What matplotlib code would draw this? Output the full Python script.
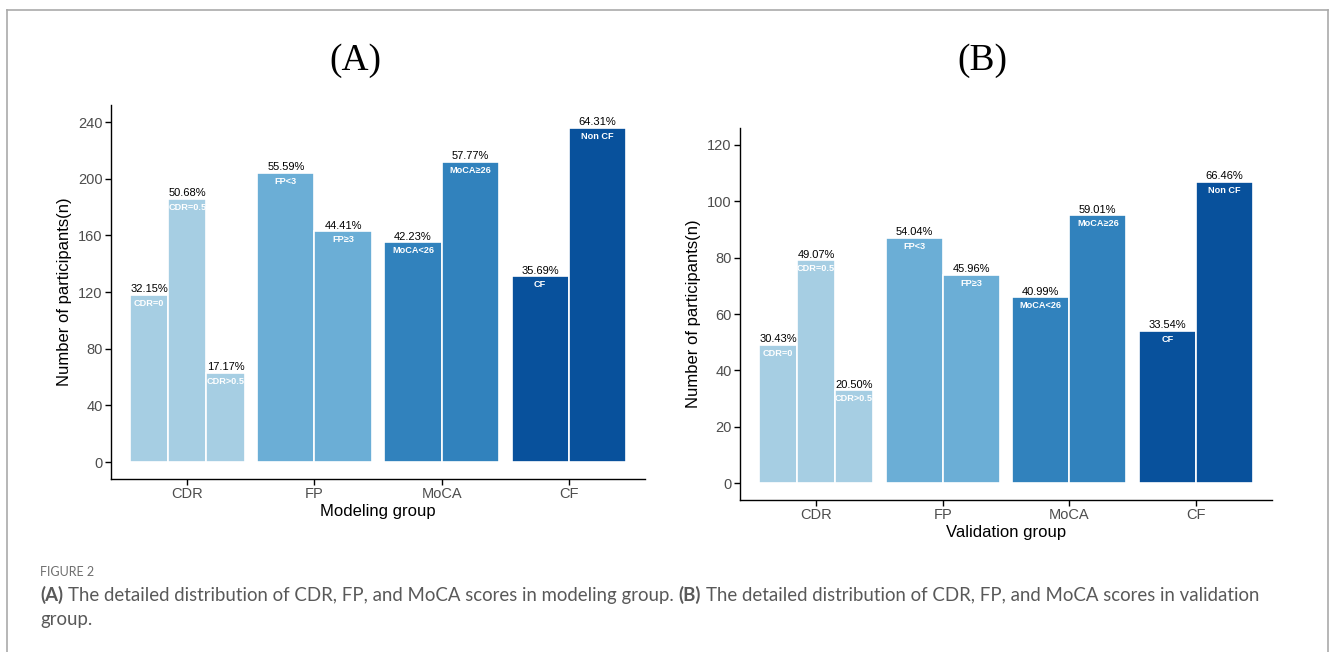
import numpy as np
import matplotlib
matplotlib.use("Agg")
import matplotlib.pyplot as plt
from matplotlib.lines import Line2D

# ---- data ----
groups = ["CDR", "FP", "MoCA", "CF"]
sub_labels = [["CDR=0", "CDR=0.5", "CDR>0.5"],
              ["FP<3", "FP\u22653"],
              ["MoCA<26", "MoCA\u226526"],
              ["CF", "Non CF"]]
model_counts = [[118, 186, 63], [204, 163], [155, 212], [131, 236]]
valid_counts = [[49, 79, 33], [87, 74], [66, 95], [54, 107]]
model_n = 367
valid_n = 161
colors = ["#A6CEE3", "#6BAED6", "#3182BD", "#08519C"]

plt.rcParams['font.family'] = ['Liberation Sans', 'DejaVu Sans']

W, H = 1330, 652
fig = plt.figure(figsize=(W / 100, H / 100), dpi=100)


def px_axes(x0, y0, x1, y1):
    return fig.add_axes([x0 / W, 1 - y1 / H, (x1 - x0) / W, (y1 - y0) / H])


def draw_panel(ax, counts, total, ymax, ystep, xlabel, ppu):
    for gi, (cnts, labs) in enumerate(zip(counts, sub_labels)):
        k = len(cnts)
        bw = 0.9 / k
        for j, (c, lab) in enumerate(zip(cnts, labs)):
            x = gi + 1 - 0.45 + bw * (j + 0.5)
            ax.bar(x, c, width=bw, color=colors[gi], edgecolor="white", linewidth=1.2)
            ax.text(x, c + 0.5 / ppu, "%.2f%%" % (100.0 * c / total), ha="center", va="bottom",
                    fontsize=8, color="black")
            ax.text(x, c - 4 / ppu, lab, ha="center", va="top", fontsize=6.6,
                    color="white", fontweight="bold")
    ax.set_xlim(0.4, 4.6)
    ax.set_ylim(-ymax * 0.05, ymax * 1.05)
    ax.set_yticks(np.arange(0, ymax + 1, ystep))
    ax.set_xticks(range(1, 5))
    ax.set_xticklabels(groups)
    for s in ["top", "right"]:
        ax.spines[s].set_visible(False)
    for s in ["left", "bottom"]:
        ax.spines[s].set_linewidth(1.0)
    ax.tick_params(axis="both", length=4, width=1.0, labelsize=10.5, labelcolor="#4D4D4D", pad=2)
    ax.set_xlabel(xlabel, fontsize=12, labelpad=2)
    ax.set_ylabel("Number of participants(n)", fontsize=12, labelpad=4)


axA = px_axes(111, 105, 645, 479)
draw_panel(axA, model_counts, model_n, 240, 40, "Modeling group", 374 / 264.0)
axB = px_axes(740, 128, 1272, 500)
draw_panel(axB, valid_counts, valid_n, 120, 20, "Validation group", 372 / 132.0)

fig.text(355 / W, 1 - 61 / H, "(A)", ha="center", va="center", fontsize=27,
         family="Liberation Serif")
fig.text(982 / W, 1 - 61 / H, "(B)", ha="center", va="center", fontsize=27,
         family="Liberation Serif")

# frame around the figure block
fig.add_artist(Line2D([7 / W, 7 / W], [0, 1 - 9.5 / H], transform=fig.transFigure,
                      color="#AAAAAA", lw=1.2))
fig.add_artist(Line2D([1328 / W, 1328 / W], [0, 1 - 9.5 / H], transform=fig.transFigure,
                      color="#AAAAAA", lw=1.2))
fig.add_artist(Line2D([7 / W, 1328 / W], [1 - 9.5 / H, 1 - 9.5 / H], transform=fig.transFigure,
                      color="#AAAAAA", lw=1.2))

# caption
cap_color = "#595959"
fig.text(40 / W, 1 - 572 / H, "FIGURE 2", ha="left", va="center", fontsize=9,
         color="#6E6E6E", family="Lato")
renderer = fig.canvas.get_renderer()
pieces = [("(A)", "bold"),
          ("The detailed distribution of CDR, FP, and MoCA scores in modeling group.", "normal"),
          ("(B)", "bold"),
          ("The detailed distribution of CDR, FP, and MoCA scores in validation", "normal")]
cap_size = 13.45
tmp1 = fig.text(0, 0, "x x", fontsize=cap_size, family="Lato")
tmp2 = fig.text(0, 0, "xx", fontsize=cap_size, family="Lato")
space = tmp1.get_window_extent(renderer).width - tmp2.get_window_extent(renderer).width
tmp1.remove()
tmp2.remove()
x = 40.0
for txt, wt in pieces:
    t = fig.text(x / W, 1 - 595 / H, txt, ha="left", va="center", fontsize=cap_size,
                 color=cap_color, family="Lato", fontweight=wt)
    x += t.get_window_extent(renderer).width + space
fig.text(40 / W, 1 - 620 / H, "group.", ha="left", va="center", fontsize=cap_size,
         color=cap_color, family="Lato")

fig.savefig("out.png", dpi=100)
